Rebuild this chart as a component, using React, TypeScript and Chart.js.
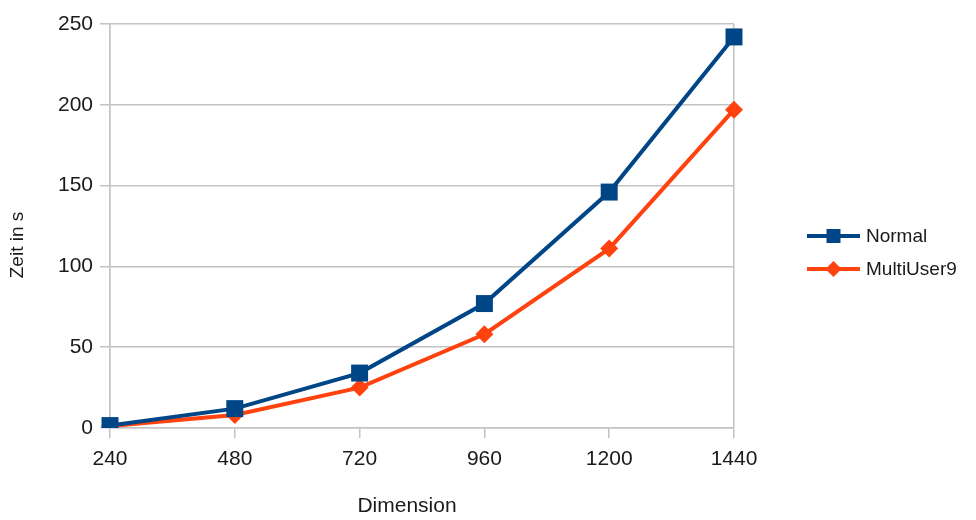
import React, { useEffect, useRef } from "react";
import { Chart, registerables } from "chart.js";

Chart.register(...registerables);

// Matrix dimension on the x axis, run time in seconds on the y axis
const dimensions = ["240", "480", "720", "960", "1200", "1440"];
const normalTimes = [1.5, 12, 34, 77, 146, 242];
const multiUser9Times = [1.2, 8, 25, 58, 111, 197];
const yTicks = [0, 50, 100, 150, 200, 250];
const xTitle = "Dimension";
const yTitle = "Zeit in s";

const BLUE = "#004586";
const ORANGE = "#ff420e";
const GRID = "#c3c3c3";
const TEXT = "#1a1a1a";
const FONT = "'Liberation Sans', Arial, sans-serif";

// Legend on the right: line sample with marker in its middle, then the label
const sideLegend = {
  id: "sideLegend",
  afterDraw(chart: any) {
    const { ctx, chartArea } = chart;
    const x0 = chartArea.right + 73;
    const lineLen = 53;
    const y0 = chartArea.top + 212;
    const gap = 33;
    ctx.save();
    chart.data.datasets.forEach((ds: any, i: number) => {
      const y = y0 + i * gap;
      ctx.strokeStyle = ds.borderColor;
      ctx.lineWidth = ds.borderWidth;
      ctx.beginPath();
      ctx.moveTo(x0, y);
      ctx.lineTo(x0 + lineLen, y);
      ctx.stroke();
      const cx = x0 + lineLen / 2;
      ctx.fillStyle = ds.pointBackgroundColor;
      ctx.beginPath();
      if (ds.pointStyle === "rect") {
        const s = 7;
        ctx.rect(cx - s, y - s, 2 * s, 2 * s);
      } else {
        const r = 8;
        ctx.moveTo(cx, y - r);
        ctx.lineTo(cx + r, y);
        ctx.lineTo(cx, y + r);
        ctx.lineTo(cx - r, y);
        ctx.closePath();
      }
      ctx.fill();
      ctx.fillStyle = TEXT;
      ctx.font = `19px ${FONT}`;
      ctx.textAlign = "left";
      ctx.textBaseline = "middle";
      ctx.fillText(ds.label, x0 + lineLen + 6, y + 1);
    });
    ctx.restore();
  },
};

// Axis titles
const axisTitles = {
  id: "axisTitles",
  afterDraw(chart: any) {
    const { ctx, chartArea } = chart;
    const midX = (chartArea.left + chartArea.right) / 2;
    const midY = (chartArea.top + chartArea.bottom) / 2;
    ctx.save();
    ctx.fillStyle = TEXT;
    ctx.textAlign = "center";
    ctx.textBaseline = "middle";
    ctx.font = `21px ${FONT}`;
    ctx.fillText(xTitle, midX - 15, chartArea.bottom + 78);
    ctx.translate(10, midY + 19);
    ctx.rotate(-Math.PI / 2);
    ctx.font = `19px ${FONT}`;
    ctx.fillText(yTitle, 0, 0);
    ctx.restore();
  },
};

export default function App() {
  const canvasRef = useRef<HTMLCanvasElement | null>(null);

  useEffect(() => {
    const canvas = canvasRef.current;
    if (!canvas) return;
    const chart = new Chart(canvas, {
      type: "line",
      data: {
        labels: dimensions,
        datasets: [
          {
            label: "Normal",
            data: normalTimes,
            borderColor: BLUE,
            backgroundColor: BLUE,
            pointBackgroundColor: BLUE,
            pointBorderColor: BLUE,
            borderWidth: 4,
            pointStyle: "rect",
            pointRadius: 12,
            pointBorderWidth: 0,
            tension: 0,
          },
          {
            label: "MultiUser9",
            data: multiUser9Times,
            borderColor: ORANGE,
            backgroundColor: ORANGE,
            pointBackgroundColor: ORANGE,
            pointBorderColor: ORANGE,
            borderWidth: 4,
            pointStyle: "rectRot",
            pointRadius: 9,
            pointBorderWidth: 0,
            tension: 0,
          },
        ],
      },
      options: {
        responsive: false,
        animation: false,
        layout: { padding: { left: 0, right: 234, top: 16, bottom: 0 } },
        plugins: {
          legend: { display: false },
          tooltip: { enabled: false },
        },
        scales: {
          x: {
            type: "category",
            offset: false,
            afterFit(scale: any) {
              scale.height = 92;
            },
            grid: {
              color: (c: any) =>
                c.index === 0 || c.index === dimensions.length - 1 ? GRID : "rgba(0,0,0,0)",
              tickColor: GRID,
              lineWidth: 1.5,
              tickLength: 10,
              drawOnChartArea: true,
            },
            border: { color: GRID, width: 1.5 },
            ticks: {
              color: TEXT,
              font: { family: FONT, size: 21 },
              padding: 9,
              maxRotation: 0,
              autoSkip: false,
            },
          },
          y: {
            min: 0,
            max: 250,
            afterFit(scale: any) {
              scale.width = 102;
              scale.paddingTop = 0;
              scale.paddingBottom = 0;
            },
            afterBuildTicks(scale: any) {
              scale.ticks = yTicks.map((v) => ({ value: v }));
            },
            grid: {
              color: GRID,
              tickColor: GRID,
              lineWidth: 1.5,
              tickLength: 10,
            },
            border: { color: GRID, width: 1.5 },
            ticks: {
              color: TEXT,
              font: { family: FONT, size: 21 },
              padding: 7,
            },
          },
        },
      },
      plugins: [sideLegend, axisTitles],
    });
    return () => chart.destroy();
  }, []);

  return <canvas ref={canvasRef} width={960} height={512} />;
}
